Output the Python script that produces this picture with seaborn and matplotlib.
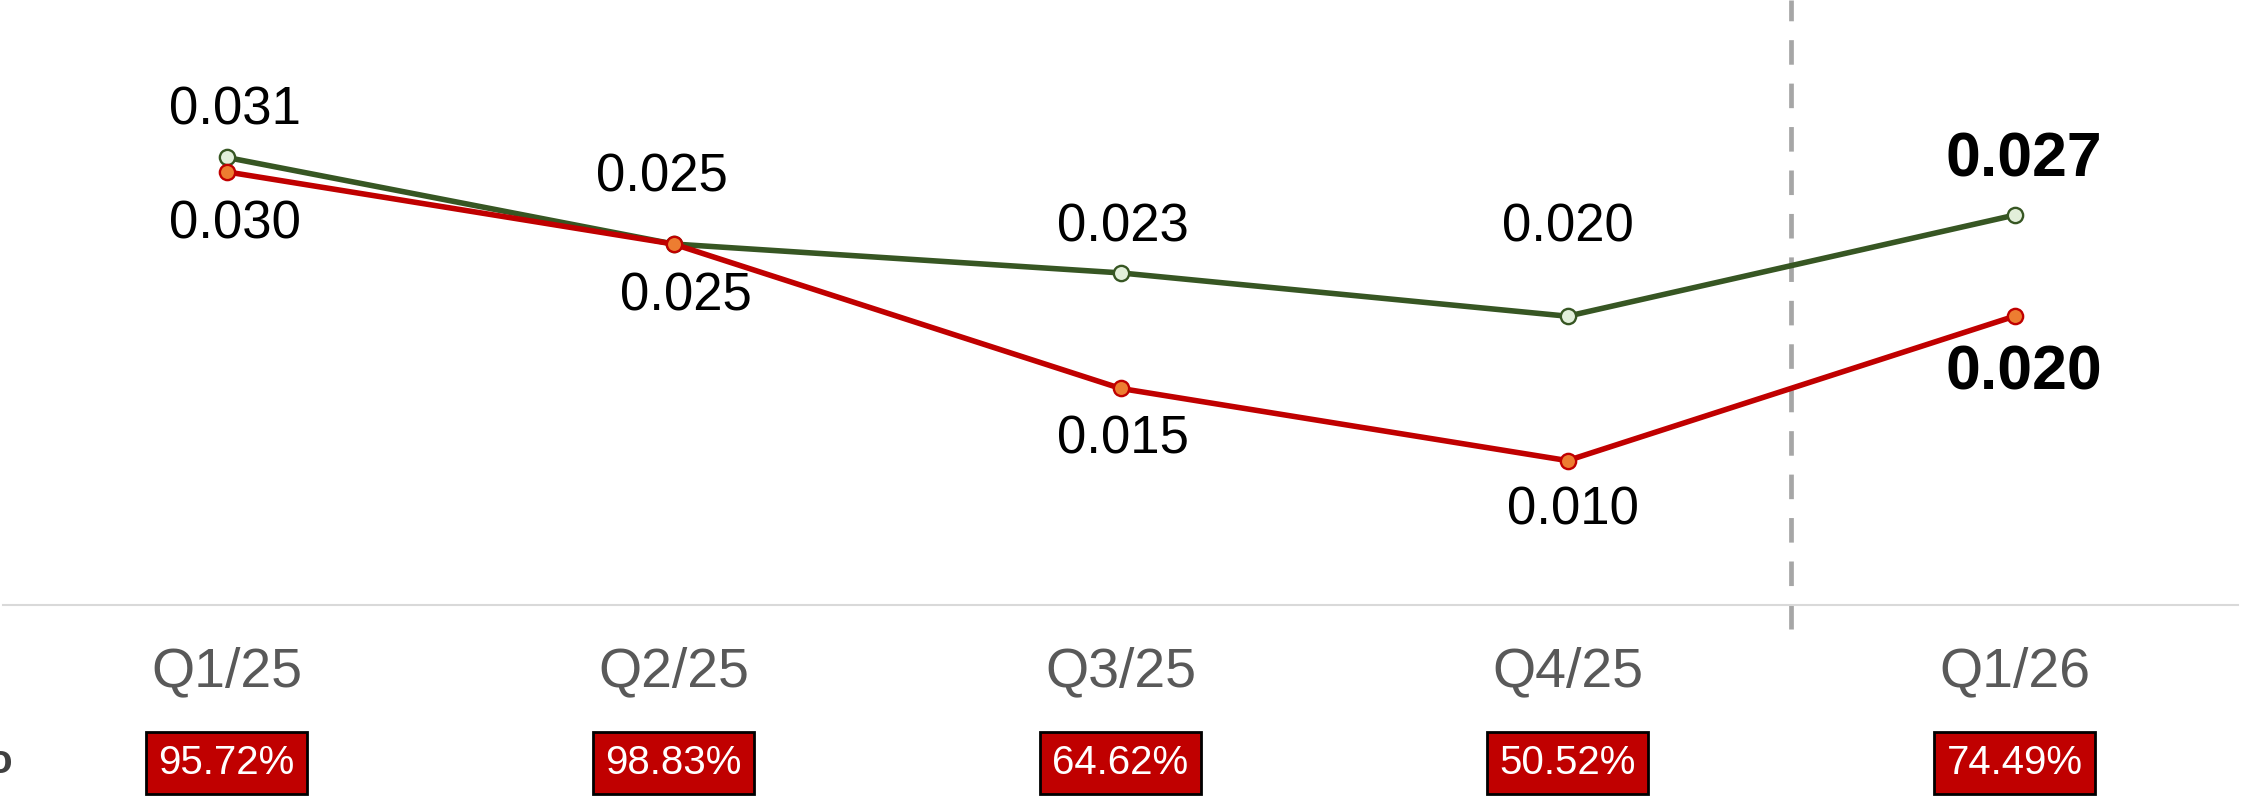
import numpy as np
import pandas as pd
import seaborn as sns
import matplotlib.pyplot as plt

#%%
quarters = ["Q1/25", "Q2/25", "Q3/25", "Q4/25", "Q1/26"]
green_vals = [0.031, 0.025, 0.023, 0.020, 0.027]
red_vals = [0.030, 0.025, 0.015, 0.010, 0.020]
pct_labels = ["95.72%", "98.83%", "64.62%", "50.52%", "74.49%"]

# label offsets in points (dx, dy)
green_off = [(6, 34), (-8, 48), (2, 33), (0, 64), (7, 40)]
red_off = [(6, -38), (9, -38), (2, -37), (4, -36), (7, -41)]

GREEN = "#375623"
RED = "#C00000"

#%%
sns.set_style("white")
plt.rcParams["font.family"] = ["Liberation Sans", "DejaVu Sans"]

fig = plt.figure(figsize=(22.41, 8), dpi=100)
ax = fig.add_axes([3 / 2241, 195 / 800, 2235 / 2241, 605 / 800])

x = np.arange(len(quarters))
df = pd.DataFrame({"x": x, "green": green_vals, "red": red_vals})

sns.lineplot(data=df, x="x", y="green", ax=ax, color=GREEN, linewidth=4.0,
             marker="o", markersize=11, markerfacecolor="#E2EFDA",
             markeredgecolor=GREEN, markeredgewidth=1.7, zorder=3)
sns.lineplot(data=df, x="x", y="red", ax=ax, color=RED, linewidth=4.0,
             marker="o", markersize=11, markerfacecolor="#ED7D31",
             markeredgecolor=RED, markeredgewidth=1.7, zorder=4)

ax.set_xlim(-0.5, len(quarters) - 0.5)
ax.set_ylim(0, 0.0419)
ax.set_xlabel("")
ax.set_ylabel("")
ax.set_yticks([])

# boundary ticks + centered labels
ax.set_xticks(np.arange(-0.5, len(quarters)), labels=[])
ax.tick_params(axis="x", which="major", length=11, width=1.5, color="#D9D9D9", direction="out")
ax.set_xticks(x, labels=quarters, minor=True)
ax.tick_params(axis="x", which="minor", length=0, pad=30, labelsize=40, labelcolor="#595959")

for s in ["top", "right", "left"]:
    ax.spines[s].set_visible(False)
ax.spines["bottom"].set_color("#D9D9D9")
ax.spines["bottom"].set_linewidth(1.5)

# forecast divider
ax.axvline(3.5, ymin=-0.04, ymax=1, color="#A6A6A6", linewidth=3.4,
           linestyle=(0, (5.2, 4.0)), clip_on=False, zorder=2)

#%%
last = len(quarters) - 1
for i in x:
    bold = "bold" if i == last else "normal"
    fs = 45 if i == last else 38
    ax.annotate(f"{green_vals[i]:.3f}", (i, green_vals[i]), xytext=green_off[i],
                textcoords="offset points", ha="center", va="center",
                fontsize=fs, fontweight=bold, color="black")
    ax.annotate(f"{red_vals[i]:.3f}", (i, red_vals[i]), xytext=red_off[i],
                textcoords="offset points", ha="center", va="center",
                fontsize=fs, fontweight=bold, color="black")
    ax.annotate(pct_labels[i], (i, 0), xycoords=("data", "axes fraction"),
                xytext=(0, -114), textcoords="offset points", ha="center", va="center",
                fontsize=29, color="white", annotation_clip=False,
                bbox=dict(boxstyle="square,pad=0.3", fc=RED, ec="black", linewidth=2))

# cut-off row label at the left edge
fig.text(12 / 2241, 1 - 762 / 800, "o", ha="right", va="center",
         fontsize=29, fontweight="bold", color="#404040")

plt.savefig("out.png", dpi=100)
